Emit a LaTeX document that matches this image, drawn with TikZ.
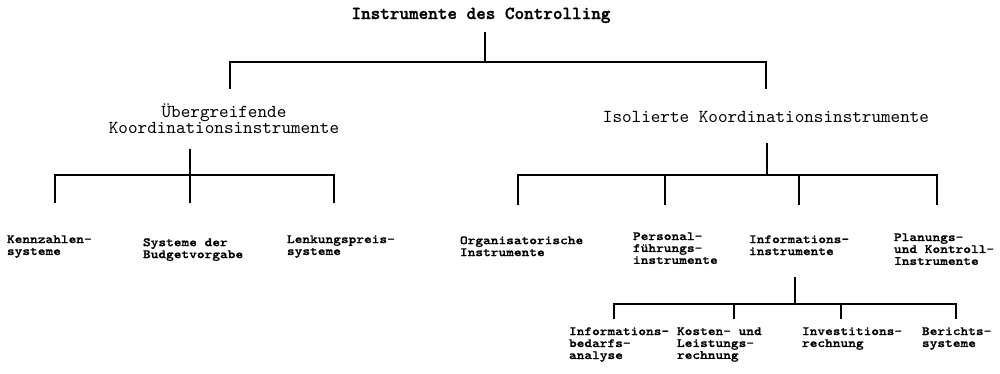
\documentclass[tikz,border=0pt]{standalone}
\usepackage{fontspec}
\newfontfamily\headfont{lmmonolt10-bold.otf}[FakeBold=1.5]
\newfontfamily\groupfont{lmmono10-regular.otf}
\newfontfamily\leaffont{lmmonolt10-bold.otf}[FakeStretch=1.16, FakeBold=1]
\tikzstyle{every node}=[inner sep=0pt, outer sep=0pt]
\tikzstyle{head}=[anchor=base, font=\headfont\fontsize{10.4}{9.1}\selectfont]
\tikzstyle{group}=[align=center, font=\groupfont\fontsize{10.4}{9.1}\selectfont]
\tikzstyle{leaf}=[anchor=north west, align=left,
                  font=\leaffont\fontsize{7.2}{6.8}\selectfont]
\tikzstyle{branch}=[line width=.75pt]

\begin{document}
\begin{tikzpicture}[x=0.02cm, y=-0.02cm]
  \useasboundingbox (0,0) rectangle (1000,373);
  % top and second level
  \node[head] (ctrl) at (481,19) {Instrumente des Controlling};
  \node[group, anchor=south] (ueber) at (224,134) {Übergreifende\\Koordinationsinstrumente};
  \node[group, anchor=base] (isol) at (766,122) {Isolierte Koordinationsinstrumente};
  % left branch
  \node[leaf] (kennz) at (7,235.3) {Kennzahlen-\\systeme};
  \node[leaf] (budget) at (143,238.3) {Systeme der\\Budgetvorgabe};
  \node[leaf] (lenk) at (287,235.3) {Lenkungspreis-\\systeme};
  % right branch
  \node[leaf] (orga) at (460,236.3) {Organisatorische\\Instrumente};
  \node[leaf] (pers) at (633,232.3) {Personal-\\führungs-\\instrumente};
  \node[leaf] (info) at (749,235.3) {Informations-\\instrumente};
  \node[leaf] (plan) at (894,233.3) {Planungs-\\und Kontroll-\\Instrumente};
  % below the information instruments
  \node[leaf] (bedarf) at (569,327.3) {Informations-\\bedarfs-\\analyse};
  \node[leaf] (kosten) at (677,327.3) {Kosten- und\\Leistungs-\\rechnung};
  \node[leaf] (invest) at (802,327.3) {Investitions-\\rechnung};
  \node[leaf] (bericht) at (922,327.3) {Berichts-\\systeme};

  % ends of the connectors
  \coordinate (ctrl-out) at (485,32);   \coordinate (ctrl-hub) at (485,62);
  \coordinate (ueber-in) at (230,89);   \coordinate (isol-in) at (766,89);
  \coordinate (ueber-out) at (190,149); \coordinate (ueber-hub) at (190,175);
  \coordinate (isol-out) at (767,143);  \coordinate (isol-hub) at (767,175);
  \coordinate (info-out) at (795,277);  \coordinate (info-hub) at (795,304);
  \coordinate (kennz-in) at (55,203);   \coordinate (budget-in) at (190,203);
  \coordinate (lenk-in) at (334,203);
  \coordinate (orga-in) at (518,205);   \coordinate (pers-in) at (665,205);
  \coordinate (info-in) at (799,205);   \coordinate (plan-in) at (937,205);
  \coordinate (bedarf-in) at (614,319); \coordinate (kosten-in) at (734,319);
  \coordinate (invest-in) at (841,319); \coordinate (bericht-in) at (956,319);

  \draw[branch] (ctrl-out) -- (ctrl-hub);
  \draw[branch] (ueber-in) |- (ctrl-hub) -| (isol-in);
  \draw[branch] (ueber-out) -- (ueber-hub);
  \draw[branch] (isol-out) -- (isol-hub);
  \draw[branch] (info-out) -- (info-hub);
  \foreach \c in {kennz,budget,lenk}
    \draw[branch] (ueber-hub) -| (\c-in);
  \foreach \c in {orga,pers,info,plan}
    \draw[branch] (isol-hub) -| (\c-in);
  \foreach \c in {bedarf,kosten,invest,bericht}
    \draw[branch] (info-hub) -| (\c-in);
\end{tikzpicture}
\end{document}
